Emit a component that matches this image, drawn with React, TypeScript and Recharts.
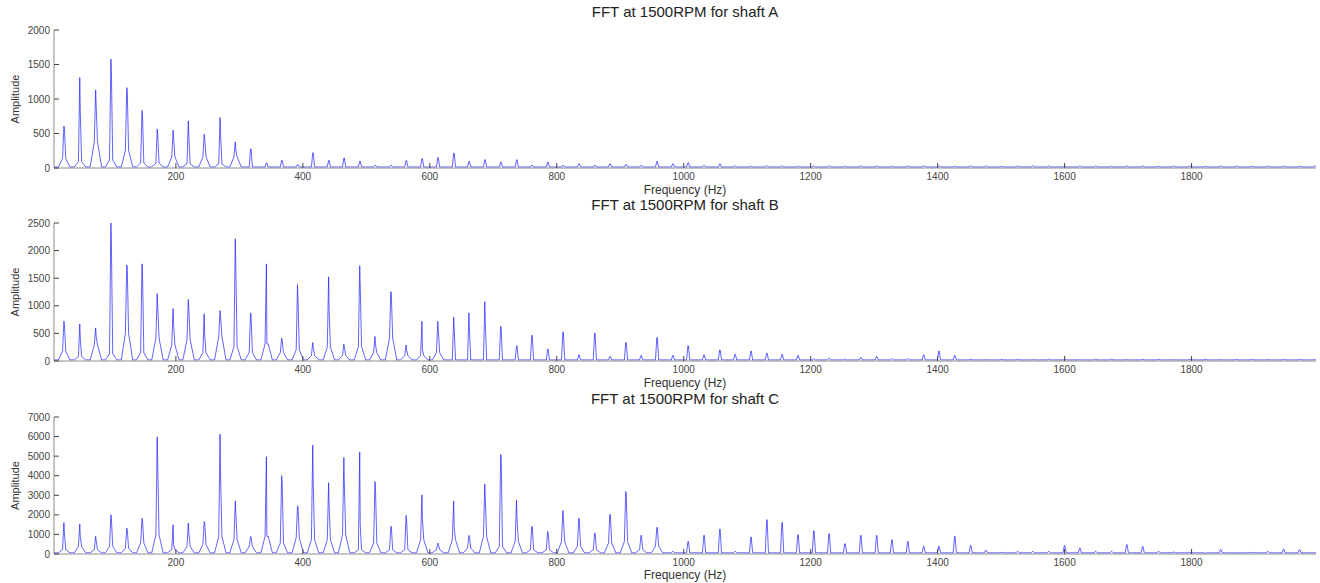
import React from 'react';
import { LineChart, Line, XAxis, YAxis } from 'recharts';

// harmonics of the shaft speed (~24.5 Hz)
const harmonicHz = [
  24, 49, 74, 98, 123, 147, 171, 196, 220, 245, 270, 294, 318, 343, 367, 392, 416, 441, 465, 490,
  514, 539, 563, 588, 613, 638, 662, 687, 712, 737, 761, 786, 810, 835, 860, 884, 909, 933, 958, 983,
  1007, 1032, 1057, 1081, 1106, 1131, 1155, 1180, 1205, 1229, 1254, 1279, 1304, 1328, 1353, 1378, 1402, 1427, 1452, 1476,
  1501, 1526, 1550, 1575, 1600, 1624, 1649, 1674, 1698, 1723, 1748, 1772, 1797, 1822, 1846, 1871, 1896, 1920, 1945, 1970,
  1994,
];

// shaft A: peak tops, the level where the spike turns dark, and the skirt of each peak
const ampA = [
  610, 1310, 1130, 1580, 1165, 835, 565, 548, 681, 490, 730, 380, 275, 75, 110, 50, 220, 110, 145, 100,
  40, 40, 110, 135, 150, 215, 95, 120, 85, 120, 40, 85, 40, 60, 40, 60, 50, 40, 95, 60,
  75, 40, 60, 30, 25, 35, 30, 25, 30, 35, 25, 30, 30, 25, 30, 35, 30, 25, 30, 30,
  25, 30, 35, 30, 25, 30, 30, 25, 30, 30, 25, 30, 30, 25, 30, 30, 25, 30, 30, 25,
  30,
];
const innerA = [570, 816, 913, 1397, 1130, 773, 490, 442, 459, 427, 500, 260];
const skirtA = [140, 92, 380, 116, 260, 72, 72, 160, 60, 160, 60, 160];
const floorA = 15;

// shaft B
const ampB = [
  720, 670, 600, 2500, 1740, 1760, 1220, 950, 1115, 855, 915, 2215, 870, 1760, 415, 1385, 335, 1525, 305, 1725,
  445, 1255, 290, 720, 720, 795, 870, 1075, 630, 275, 465, 215, 525, 110, 505, 80, 335, 100, 425, 100,
  275, 110, 200, 120, 180, 140, 120, 100, 40, 50, 35, 65, 80, 40, 40, 110, 180, 100, 30, 25,
  30, 30, 25, 35, 30, 25, 30, 30, 25, 30, 30, 25, 30, 30, 25, 30, 30, 25, 30, 30,
  25,
];
const innerB = [
  660, 415, 445, 2150, 1700, 1635, 995, 660, 935, 445, 800, 1700, 850, 310, 380, 1085, 250, 900, 250, 1360,
  300, 1210, 200, 210, 570, 600, 570, 720, 600,
];
const skirtB = [
  180, 80, 290, 130, 505, 150, 415, 290, 385, 150, 445, 260, 150, 310, 150, 200, 100, 250, 100, 260,
  150, 415, 100, 100, 150,
];
const floorB = 20;

// shaft C
const ampC = [
  1610, 1525, 900, 2000, 1320, 1830, 5980, 1490, 1575, 1660, 6120, 2710, 900, 4970, 4000, 2460, 5560, 3645, 4930, 5220,
  3700, 1410, 1970, 3020, 560, 2710, 950, 3580, 5085, 2760, 1410, 1150, 2220, 1830, 1070, 2030, 3190, 950, 1355, 135,
  645, 950, 1270, 135, 865, 1750, 1610, 985, 1185, 1035, 525, 950, 950, 730, 645, 390, 390, 900, 440, 185,
  85, 135, 135, 135, 425, 305, 135, 135, 475, 390, 135, 100, 85, 40, 220, 50, 85, 135, 255, 220,
  60,
];
const innerC = [
  1070, 900, 700, 1830, 1240, 1750, 4630, 475, 1070, 1575, 4035, 2120, 850, 900, 3610, 2400, 3610, 2420, 3525, 1490,
  3440, 1400, 1750, 1750, 500, 1320, 900, 2850, 5000, 1750, 1400, 1100, 1830, 1800, 1050, 2000, 3100,
];
const skirtC = [
  220, 390, 220, 390, 300, 560, 980, 220, 390, 475, 900, 730, 390, 900, 560, 815, 730, 730, 980, 220,
  560, 220, 220, 730, 220, 730, 300, 900, 390, 645, 220, 220, 645, 390, 220, 560, 645, 220, 390,
];
const floorC = 60;

const xTicks = [200, 400, 600, 800, 1000, 1200, 1400, 1600, 1800];
const yTicksA = [0, 500, 1000, 1500, 2000];
const yTicksB = [0, 500, 1000, 1500, 2000, 2500];
const yTicksC = [0, 1000, 2000, 3000, 4000, 5000, 6000, 7000];

const X_MIN = 8;
const X_MAX = 1996;

// each peak becomes a spike: skirt up, thin top, drop back to the dark level, skirt down
function buildSpectrum(amp: number[], inner: number[], skirt: number[], floor: number) {
  const pts = [{ f: X_MIN, a: floor }];
  amp.forEach((top, i) => {
    const hz = harmonicHz[i];
    const s = skirt[i] ?? floor;
    const drop = inner[i] ?? top;
    pts.push(
      { f: hz - 9, a: floor },
      { f: hz - 2.5, a: s },
      { f: hz - 0.4, a: top },
      { f: hz + 0.4, a: drop },
      { f: hz + 2.5, a: s },
      { f: hz + 9, a: floor },
    );
  });
  pts.push({ f: X_MAX, a: floor });
  return pts;
}

const AXIS = '#8c8c8c';
const TICK = '#444';

const panels = [
  { title: 'FFT at 1500RPM for shaft A', data: buildSpectrum(ampA, innerA, skirtA, floorA), yTicks: yTicksA, top: 0, height: 200, mTop: 30, mBottom: 6, labelOffset: 0 },
  { title: 'FFT at 1500RPM for shaft B', data: buildSpectrum(ampB, innerB, skirtB, floorB), yTicks: yTicksB, top: 195, height: 200, mTop: 28, mBottom: 8, labelOffset: 0 },
  { title: 'FFT at 1500RPM for shaft C', data: buildSpectrum(ampC, innerC, skirtC, floorC), yTicks: yTicksC, top: 390, height: 193, mTop: 27, mBottom: 3, labelOffset: 1 },
];

const Panel = ({ p }: { p: typeof panels[number] }) => {
  const yMax = p.yTicks[p.yTicks.length - 1];
  return (
    <div style={{ position: 'absolute', left: 0, top: p.top, width: 1320, height: p.height }}>
      <div
        style={{
          position: 'absolute', left: 54, width: 1262, top: p.mTop - 27, height: 18,
          lineHeight: '18px', textAlign: 'center', fontSize: 15, color: '#222',
        }}
      >
        {p.title}
      </div>
      <LineChart width={1320} height={p.height} data={p.data} margin={{ top: p.mTop, right: 4, bottom: p.mBottom, left: 0 }}>
        <XAxis
          xAxisId="b" dataKey="f" type="number" domain={[X_MIN, X_MAX]} allowDataOverflow
          ticks={xTicks} interval={0} height={26} tickSize={-5} tickMargin={10}
          axisLine={{ stroke: AXIS }} tickLine={{ stroke: TICK }}
          tick={{ fill: TICK, fontSize: 10 }}
          label={{ value: 'Frequency (Hz)', position: 'insideBottom', offset: p.labelOffset, fill: '#333', fontSize: 12 }}
        />
        <XAxis
          xAxisId="t" orientation="top" dataKey="f" type="number" domain={[X_MIN, X_MAX]} allowDataOverflow
          ticks={xTicks} interval={0} height={0} tickSize={-5} tick={false}
          axisLine={{ stroke: AXIS }} tickLine={{ stroke: TICK }}
        />
        <YAxis
          yAxisId="l" type="number" domain={[0, yMax]} allowDataOverflow ticks={p.yTicks} interval={0}
          width={54} tickSize={-5} tickMargin={9}
          axisLine={{ stroke: AXIS }} tickLine={{ stroke: TICK }}
          tick={{ fill: TICK, fontSize: 10 }}
          label={{ value: 'Amplitude', angle: -90, position: 'insideLeft', offset: 15, fill: '#333', fontSize: 11, style: { textAnchor: 'middle' } }}
        />
        <YAxis
          yAxisId="r" orientation="right" type="number" domain={[0, yMax]} allowDataOverflow ticks={p.yTicks} interval={0}
          width={0} tickSize={-5} tick={false}
          axisLine={{ stroke: AXIS }} tickLine={{ stroke: TICK }}
        />
        <Line
          xAxisId="b" yAxisId="l" type="linear" dataKey="a" stroke="#1f1fff" strokeWidth={0.7}
          dot={false} activeDot={false} isAnimationActive={false}
        />
      </LineChart>
    </div>
  );
};

export default function App() {
  return (
    <div
      style={{
        position: 'absolute', left: 0, top: 0, width: 1320, height: 583, background: '#fff',
        fontFamily: '"Liberation Sans", Arial, sans-serif',
      }}
    >
      {panels.map((p) => (
        <Panel key={p.title} p={p} />
      ))}
    </div>
  );
}
